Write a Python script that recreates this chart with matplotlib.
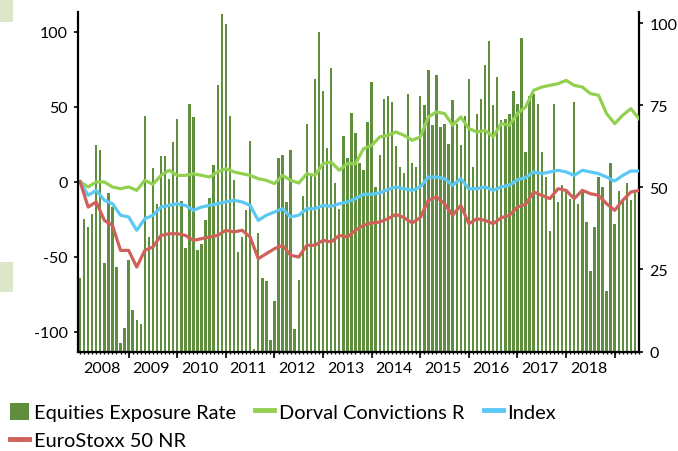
import matplotlib
matplotlib.use("Agg")
import matplotlib.pyplot as plt
import numpy as np
from matplotlib.patches import Patch, Rectangle
from matplotlib.lines import Line2D

plt.rcParams['font.family'] = ['Lato', 'DejaVu Sans']
plt.rcParams['axes.unicode_minus'] = False

# ---- data ----
years = [2008, 2009, 2010, 2011, 2012, 2013, 2014, 2015, 2016, 2017, 2018]

# monthly equities exposure rate (%), Jan 2008 .. Jul 2019
exposure = [22.5, 40.5, 38, 41.8, 63, 61.5, 27, 48.4, 44, 25.8, 2.6, 7.2,
            27.8, 12.7, 9.7, 8.5, 71.9, 35, 56, 44.9, 59.6, 59.6, 52.6, 63.9,
            70.9, 46, 31.6, 75.5, 71.5, 30.8, 32.7, 40.2, 46.8, 56.9, 81.3, 103,
            99.9, 71.9, 52.4, 30.3, 34.9, 43.2, 64.2, 0.9, 36.1, 22.5, 21.5, 3.6,
            15.4, 59, 60, 45.7, 61.5, 7, 21.9, 47.4, 69.5, 53.7, 83.2, 97.4,
            79.4, 62, 86.4, 51.4, 43.5, 65.7, 59.1, 72.7, 66.6, 57.6, 55.2, 70,
            82.2, 50.2, 60, 77, 77.9, 76.1, 62.7, 56.3, 54.5, 78.5, 57.6, 56.3,
            77.9, 75.2, 85.9, 69.2, 84.4, 68.4, 69.5, 63.4, 76.6, 69.3, 63, 71.7,
            83.2, 56.3, 72.5, 77, 87.3, 94.8, 75.2, 83.7, 70.5, 70.9, 72.5, 79.4,
            75.5, 95.6, 60.8, 78, 78.4, 75.5, 60.8, 53.2, 36.7, 75.5, 45.6, 50.7,
            49.3, 46.6, 76.1, 45.1, 49.3, 39.5, 24.5, 38, 53.2, 50.1, 18.4, 57.6,
            39, 48.8, 46.1, 51.4, 46.3, 49.3, 45.9]

# cumulative performance (%), sampled every two months from Jan 2008
dorval = [0, -3.5, -0.2, -0.2, -3.5, -4.7, -3.5, -5.8, 0.9, -1.8, 4.2, 7.6,
          4.2, 4.2, 5.3, 4.2, 3.1, 6.5, 8.7, 6.5, 5.3, 4.2, 2, 0.9, -1.3, 4.2,
          0.9, -0.9, 5.3, 4.2, 12, 13.1, 7.6, 12, 12, 22, 24.2, 29.8, 30.9, 33.1,
          30.9, 27.6, 29.8, 43.1, 46.5, 45.4, 37.6, 43.1, 35.4, 33.1, 34.2, 30,
          38.7, 37.6, 45.4, 49.8, 60.9, 63.1, 64.2, 65.3, 67.5, 64.2, 63.1, 58.7,
          57.6, 45.4, 38.7, 44.3, 48.7, 42]
index_ = [0, -9.1, -5.8, -12.4, -14.7, -22.4, -23.5, -32.4, -24.7, -22.4, -16.9,
          -15.8, -14.7, -15.8, -19.1, -16.9, -15.8, -14.7, -13.5, -12.4, -13.5,
          -15.8, -25.8, -22.4, -20.2, -18, -23.5, -22.4, -18, -18, -15.8, -16.4,
          -14.7, -13.5, -11.3, -8.4, -8.4, -7.5, -5.3, -3.5, -4.7, -5.8, -3.5,
          3.1, 3.1, 2, -2.4, 2, -4.7, -4.7, -3.5, -5.8, -3.5, -2.4, 1.3, 2.7,
          6.5, 5.3, 6.5, 7.6, 6.5, 4.2, 7.6, 6.5, 5.3, 3.1, 0.4, 4.2, 7.1, 7.1]
eurostoxx = [0, -16.9, -13.5, -25.8, -29.1, -45.8, -45.8, -56.9, -45.8, -43.5,
             -35.8, -34.7, -34.7, -35.8, -39.1, -38, -36.9, -35.8, -32.4, -33.5,
             -32.4, -36.9, -51.3, -48, -44.7, -42.4, -49.1, -50.2, -42.4, -42.4,
             -39.1, -40.2, -35.8, -36.9, -32.4, -29.1, -27.5, -26.9, -24.7, -21.8,
             -24, -27.5, -24, -12.4, -10.2, -14.7, -22.4, -15.8, -28, -24.7, -25.8,
             -28, -24, -22.4, -16.9, -15.1, -6.9, -9.1, -11.3, -4.7, -5.8, -11.3,
             -5.8, -8, -9.1, -14.7, -19.1, -12.4, -6.9, -5.8]

labels = ["Equities Exposure Rate", "Dorval Convictions R", "Index", "EuroStoxx 50 NR"]

# ---- colours ----
c_bar = '#5f8f3e'
c_dorval = '#92d050'
c_index = '#5bc8f5'
c_euro = '#d0605a'

W, H = 678, 452
fig = plt.figure(figsize=(W / 100, H / 100), dpi=100)
L, R, T, B = 78, 639, 13, 352.5
ax = fig.add_axes([L / W, 1 - B / H, (R - L) / W, (B - T) / H])
ax2 = ax.twinx()

n = len(exposure)
xm = np.arange(n)
ax2.bar(xm, exposure, width=0.6, color=c_bar, linewidth=0)

xl = np.arange(0, n, 2)[:len(dorval)]
ax.plot(xl, dorval, color=c_dorval, lw=2.3, solid_joinstyle='round')
ax.plot(xl, index_, color=c_index, lw=2.3, solid_joinstyle='round')
ax.plot(xl, eurostoxx, color=c_euro, lw=2.3, solid_joinstyle='round')

ax.set_zorder(ax2.get_zorder() + 1)
ax.patch.set_visible(False)

ax.set_xlim(-0.5, 138.0)
ax.set_ylim(-113.2, 113.1)
ax2.set_ylim(0, 103.5)

ax.set_yticks([-100, -50, 0, 50, 100])
ax2.set_yticks([0, 25, 50, 75, 100])

for a in (ax, ax2):
    for s in a.spines.values():
        s.set_visible(False)
ax.spines['left'].set_visible(True)
ax.spines['bottom'].set_visible(True)
ax2.spines['right'].set_visible(True)
for s in (ax.spines['left'], ax.spines['bottom'], ax2.spines['right']):
    s.set_color('black')
    s.set_linewidth(1.6)

ax.tick_params(axis='y', direction='out', length=3, width=1.2, pad=4.5, labelsize=11.5)
ax2.tick_params(axis='y', direction='out', length=3, width=1.2, pad=4.5, labelsize=11.5)

# x ticks: year boundaries (major), months (minor), year labels mid-year
ax.set_xticks([12 * k for k in range(1, len(years) + 1)])
ax.set_xticklabels([])
ax.set_xticks(np.arange(0, n), minor=True)
ax.xaxis.remove_overlapping_locs = False
ax.tick_params(axis='x', which='major', direction='out', length=4, width=1.2)
ax.tick_params(axis='x', which='minor', direction='out', length=1.5, width=1)
sec = ax.secondary_xaxis('bottom')
sec.set_xticks([12 * k + 5.5 for k in range(len(years))])
sec.set_xticklabels([str(y) for y in years])
sec.tick_params(length=0, pad=7, labelsize=11.5)
sec.spines['bottom'].set_visible(False)

# legend
h_bar = Patch(facecolor=c_bar, edgecolor='none')
h_d = Line2D([], [], color=c_dorval, lw=3.5)
h_i = Line2D([], [], color=c_index, lw=3.5)
h_e = Line2D([], [], color=c_euro, lw=3.5)
fig.legend([h_bar, h_e, h_d, h_i], [labels[0], labels[3], labels[1], labels[2]],
           ncol=3, loc='upper left', bbox_to_anchor=(10 / W, 1 - 403.5 / H),
           frameon=False, fontsize=14.4, handlelength=0.95, handleheight=1.0,
           handletextpad=0.25, columnspacing=0.95, labelspacing=0.47,
           borderpad=0, borderaxespad=0)

# stray shaded boxes at the left edge
fig.add_artist(Rectangle((0, 1 - 23 / H), 13 / W, 23 / H, transform=fig.transFigure,
                         facecolor='#dce6c8', edgecolor='none'))
fig.add_artist(Rectangle((0, 1 - 293 / H), 13 / W, 30 / H, transform=fig.transFigure,
                         facecolor='#dce6c8', edgecolor='none'))

fig.savefig('out.png', dpi=100)
